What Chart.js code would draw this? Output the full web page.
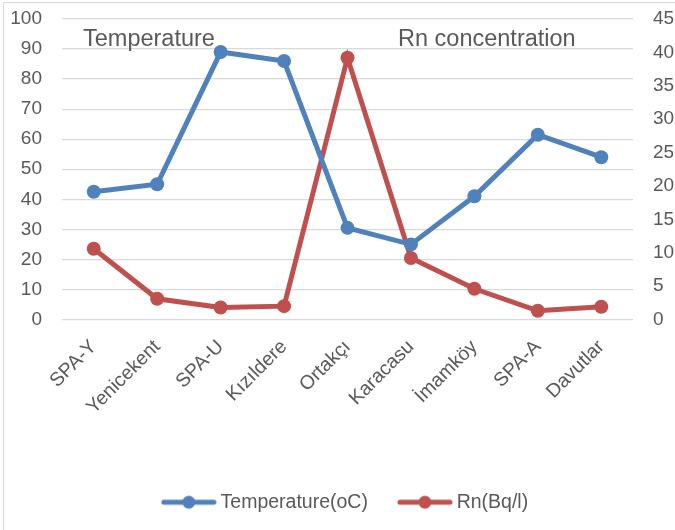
<!DOCTYPE html>
<html>
<head>
<meta charset="utf-8">
<script src="https://cdn.jsdelivr.net/npm/chart.js@4.4.0/dist/chart.umd.min.js"></script>
<style>
  html, body { margin: 0; padding: 0; background: #fff; }
  #wrap { width: 675px; height: 530px; position: relative; }
</style>
</head>
<body>
<div id="wrap"><canvas id="chart" width="675" height="530"></canvas></div>
<script>
// Datos
const sites = ['SPA-Y', 'Yenicekent', 'SPA-U', 'Kızıldere', 'Ortakçı', 'Karacasu', 'İmamköy', 'SPA-A', 'Davutlar'];
const temperature = [42.5, 45, 89, 86, 30.5, 25, 41, 61.5, 54];
const radon = [10.6, 3.1, 1.8, 2.0, 39.2, 9.2, 4.6, 1.3, 1.9];
const leftTicks = [0, 10, 20, 30, 40, 50, 60, 70, 80, 90, 100];
const rightTicks = [0, 5, 10, 15, 20, 25, 30, 35, 40, 45];

const BLUE = '#4f81bd';
const RED = '#c0504d';
const TEXT = '#595959';
const FONT = "'Liberation Sans', Arial, sans-serif";

// Icono de leyenda: línea con punto
function legendIcon(color) {
    const c = document.createElement('canvas');
    c.width = 56; c.height = 16;
    const g = c.getContext('2d');
    g.strokeStyle = color;
    g.lineWidth = 5;
    g.lineCap = 'round';
    g.beginPath(); g.moveTo(3, 8); g.lineTo(53, 8); g.stroke();
    g.fillStyle = color;
    g.beginPath(); g.arc(28, 8, 6.5, 0, Math.PI * 2); g.fill();
    return c;
}

// Textos sueltos, borde y leyenda un poco a la derecha
const notesPlugin = {
    id: 'notesPlugin',
    afterLayout(chart) {
        if (chart.legend) chart.legend.left += 20;
    },
    beforeDraw(chart) {
        const ctx = chart.ctx;
        ctx.save();
        ctx.strokeStyle = '#d9d9d9';
        ctx.lineWidth = 1;
        ctx.strokeRect(3.5, 2.5, 700, 600);
        ctx.restore();
    },
    afterDraw(chart) {
        const ctx = chart.ctx;
        ctx.save();
        ctx.font = '23.5px ' + FONT;
        ctx.fillStyle = TEXT;
        ctx.textBaseline = 'alphabetic';
        ctx.fillText('Temperature', 83, 46);
        ctx.fillText('Rn concentration', 398, 46);
        ctx.restore();
    }
};

new Chart(document.getElementById('chart'), {
    type: 'line',
    data: {
        labels: sites,
        datasets: [{
            label: 'Temperature(oC)',
            data: temperature,
            yAxisID: 'y',
            borderColor: BLUE,
            backgroundColor: BLUE,
            borderWidth: 5,
            pointRadius: 7,
            pointBorderWidth: 0,
            tension: 0
        }, {
            label: 'Rn(Bq/l)',
            data: radon,
            yAxisID: 'y1',
            borderColor: RED,
            backgroundColor: RED,
            borderWidth: 5,
            pointRadius: 7,
            pointBorderWidth: 0,
            tension: 0
        }]
    },
    options: {
        responsive: false,
        animation: false,
        layout: { padding: { top: 19, bottom: 8, left: 0, right: 0 } },
        elements: { point: { pointStyle: 'circle' } },
        plugins: {
            legend: {
                position: 'bottom',
                labels: {
                    font: { family: FONT, size: 19.5 },
                    color: TEXT,
                    usePointStyle: true,
                    pointStyleWidth: 44,
                    padding: 35,
                    generateLabels(chart) {
                        return chart.data.datasets.map((ds, i) => ({
                            text: ds.label,
                            fillStyle: ds.borderColor,
                            strokeStyle: ds.borderColor,
                            lineWidth: 0,
                            pointStyle: legendIcon(ds.borderColor),
                            fontColor: TEXT,
                            hidden: false,
                            datasetIndex: i
                        }));
                    }
                }
            },
            tooltip: { enabled: false }
        },
        scales: {
            x: {
                offset: true,
                grid: { display: false, drawTicks: false },
                border: { display: false },
                ticks: {
                    font: { family: FONT, size: 19.5 },
                    color: TEXT,
                    maxRotation: 45,
                    minRotation: 45,
                    padding: 16
                },
                afterFit: s => { s.height = 138; }
            },
            y: {
                position: 'left',
                min: 0,
                max: 100,
                afterBuildTicks: s => { s.ticks = leftTicks.map(v => ({ value: v })); },
                // marcas invisibles para separar las etiquetas del área
                grid: { color: '#d9d9d9', lineWidth: 1.3, drawTicks: true, tickLength: 20, tickColor: 'rgba(0,0,0,0)' },
                border: { display: false },
                ticks: {
                    font: { family: FONT, size: 19 },
                    color: TEXT,
                    padding: 0
                },
                afterFit: s => { s.width = 62; }
            },
            y1: {
                position: 'right',
                min: 0,
                max: 45,
                afterBuildTicks: s => { s.ticks = rightTicks.map(v => ({ value: v })); },
                grid: { drawOnChartArea: false, drawTicks: true, tickLength: 20, tickColor: 'rgba(0,0,0,0)', color: 'rgba(0,0,0,0)' },
                border: { display: false },
                ticks: {
                    font: { family: FONT, size: 19 },
                    color: TEXT,
                    padding: 0
                },
                afterFit: s => { s.width = 42; }
            }
        }
    },
    plugins: [notesPlugin]
});
</script>
</body>
</html>
